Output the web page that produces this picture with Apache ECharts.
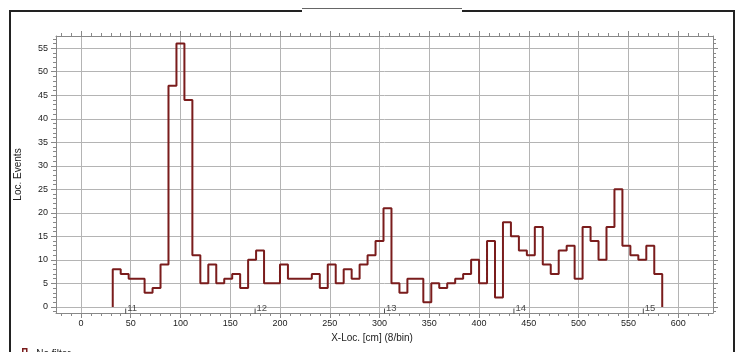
<!DOCTYPE html>
<html>
<head>
<meta charset="utf-8">
<script src="https://cdn.jsdelivr.net/npm/echarts@6/dist/echarts.min.js"></script>
<style>
  html, body { margin: 0; padding: 0; background: #fff; }
  #chart { width: 739px; height: 352px; }
</style>
</head>
<body>
<div id="chart"></div>
<script>
// histogram: 8 cm bins starting at 32 cm
const binStart = 32
const binWidth = 8
const counts = [
  8, 7, 6, 6, 3, 4, 9, 47, 56, 44,
  11, 5, 9, 5, 6, 7, 4, 10, 12, 5,
  5, 9, 6, 6, 6, 7, 4, 9, 5, 8,
  6, 9, 11, 14, 21, 5, 3, 6, 6, 1,
  5, 4, 5, 6, 7, 10, 5, 14, 2, 18,
  15, 12, 11, 17, 9, 7, 12, 13, 6, 17,
  14, 10, 17, 25, 13, 11, 10, 13, 7
]
const sensorX = [45, 175, 305, 435, 565]
const sensorNames = ['11', '12', '13', '14', '15']
const xTicks = [0, 50, 100, 150, 200, 250, 300, 350, 400, 450, 500, 550, 600]
const yTicks = [0, 5, 10, 15, 20, 25, 30, 35, 40, 45, 50, 55]

const xMin = -25, xMax = 635
const yMin = -1.3, yMax = 57.6

const xMinor = []
for (let v = -20; v <= 630; v += 10) xMinor.push(v)
const yMinor = []
for (let v = -1; v <= 57; v += 1) yMinor.push(v)

// outline points for the step line
const steps = [[binStart, 0]]
counts.forEach((c, i) => steps.push([binStart + i * binWidth, c]))
const binEnd = binStart + counts.length * binWidth
steps.push([binEnd, counts[counts.length - 1]], [binEnd, 0])

const lineColor = '#7a1c1c'
const axisColor = '#888'
const gridColor = '#b4b4b4'
const textColor = '#222'
const font = 'Liberation Sans, Arial, sans-serif'

function tickAxis(position, min, max, values, len, withLabels) {
  return {
    type: 'value',
    position: position,
    min: min,
    max: max,
    axisLine: { show: withLabels !== null, onZero: false, lineStyle: { color: axisColor, width: 1 } },
    axisTick: { show: true, inside: false, length: len, customValues: values, lineStyle: { color: axisColor } },
    axisLabel: withLabels
      ? { show: true, customValues: values, fontSize: 9, color: textColor, fontFamily: font, margin: position === 'bottom' ? 6 : 8 }
      : { show: false },
    splitLine: { show: false }
  }
}

const xMain = tickAxis('bottom', xMin, xMax, xTicks, 5, true)
xMain.splitLine = { show: true, lineStyle: { color: gridColor, width: 1 } }
xMain.name = 'X-Loc. [cm] (8/bin)'
xMain.nameLocation = 'middle'
xMain.nameGap = 19
xMain.nameTextStyle = { fontSize: 10, color: textColor, fontFamily: font, padding: [0, 25, 0, 0] }

const yMain = tickAxis('left', yMin, yMax, yTicks, 5, true)
yMain.splitLine = { show: true, lineStyle: { color: gridColor, width: 1 } }
yMain.name = 'Loc. Events'
yMain.nameLocation = 'middle'
yMain.nameGap = 33
yMain.nameTextStyle = { fontSize: 10, color: textColor, fontFamily: font }

const chart = echarts.init(document.getElementById('chart'))
const option = {
  animation: false,
  backgroundColor: '#fff',
  grid: { left: 56, right: 26, top: 36, bottom: 39 },
  xAxis: [
    xMain,
    tickAxis('bottom', xMin, xMax, xMinor, 3, null),
    tickAxis('top', xMin, xMax, xTicks, 5, false),
    tickAxis('top', xMin, xMax, xMinor, 3, null)
  ],
  yAxis: [
    yMain,
    tickAxis('left', yMin, yMax, yMinor, 3, null),
    tickAxis('right', yMin, yMax, yTicks, 5, false),
    tickAxis('right', yMin, yMax, yMinor, 3, null)
  ],
  legend: {
    left: 14,
    top: 343,
    itemWidth: 13,
    itemHeight: 10,
    textStyle: { fontSize: 10, color: textColor, fontFamily: font },
    data: [{
      name: 'No filter',
      icon: 'path://M0 10V4H3V0H7V4H10V10',
      itemStyle: { color: 'transparent', borderColor: lineColor, borderWidth: 1.5 }
    }]
  },
  graphic: [
    { type: 'rect', shape: { x: 10, y: 11, width: 724, height: 360 }, style: { fill: 'none', stroke: '#222', lineWidth: 2 }, silent: true },
    { type: 'rect', shape: { x: 302, y: 9, width: 160, height: 4 }, style: { fill: '#fff' }, silent: true },
    { type: 'line', shape: { x1: 302, y1: 8.5, x2: 462, y2: 8.5 }, style: { stroke: '#666', lineWidth: 1 }, silent: true }
  ],
  series: [
    {
      name: 'No filter',
      type: 'line',
      step: 'end',
      showSymbol: false,
      symbol: 'none',
      lineStyle: { color: lineColor, width: 2 },
      itemStyle: { color: lineColor },
      data: steps
    },
    {
      name: 'sensors',
      type: 'scatter',
      symbol: 'rect',
      symbolSize: [1, 5],
      itemStyle: { color: '#222' },
      label: {
        show: true,
        position: 'right',
        distance: 1,
        offset: [0, -3],
        fontSize: 9.5,
        color: textColor,
        fontFamily: font,
        formatter: p => p.name
      },
      data: sensorX.map((x, i) => ({ name: sensorNames[i], value: [x, -0.85] }))
    }
  ]
}
chart.setOption(option)
</script>
</body>
</html>
